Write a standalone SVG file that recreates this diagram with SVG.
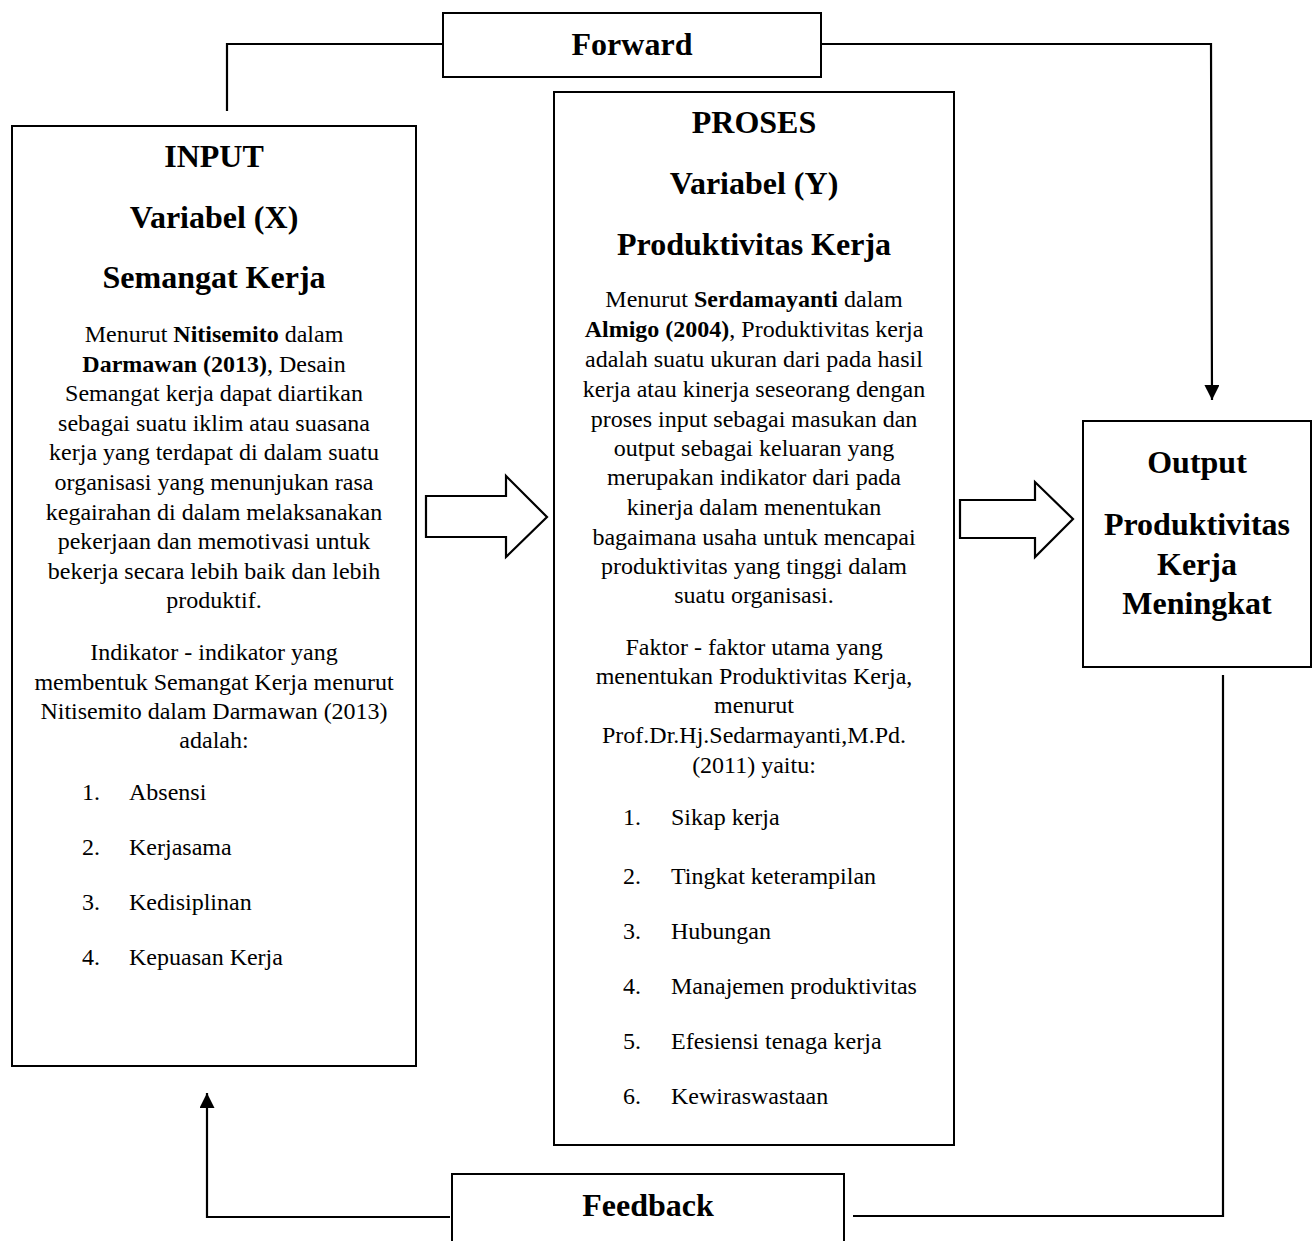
<svg xmlns="http://www.w3.org/2000/svg" width="1315" height="1241" viewBox="0 0 1315 1241">
<style>
.box{fill:#fff;stroke:#000;stroke-width:2}
.ln{fill:none;stroke:#000;stroke-width:2.2}
.t{font-family:"Liberation Serif","Times New Roman",serif;fill:#000}
.h{font-size:32px;font-weight:bold;text-anchor:middle}
.b{font-size:24px;text-anchor:middle}
.l{font-size:24px}
.bd{font-weight:bold}
.blk{fill:#fff;stroke:#000;stroke-width:2.2;stroke-linejoin:miter}
</style>
<defs>
<marker id="ah" markerWidth="15" markerHeight="15" refX="15" refY="7.5" orient="auto" markerUnits="userSpaceOnUse">
<path d="M0,0 L15,7.5 L0,15 Z" fill="#000"/>
</marker>
</defs>
<rect width="1315" height="1241" fill="#fff"/>
<g id="connectors">
<polyline class="ln" points="227,111 227,44 443,44"/>
<polyline class="ln" points="821,44 1211,44 1212,400" marker-end="url(#ah)"/>
<polyline class="ln" points="1223,675 1223,1216 853,1216"/>
<polyline class="ln" points="450,1217 207,1217 207,1093" marker-end="url(#ah)"/>
<polygon class="blk" points="426,496 506,496 506,476 547,517 506,557 506,537 426,537"/>
<polygon class="blk" points="960,500 1035,500 1035,482 1073,519 1035,557 1035,538 960,538"/>
</g>
<g id="forward">
<rect class="box" x="443" y="13" width="378" height="64"/>
<text class="t h" x="632" y="55">Forward</text>
</g>
<g id="input">
<rect class="box" x="12" y="126" width="404" height="940"/>
<text class="t h" x="214" y="167">INPUT</text>
<text class="t h" x="214" y="228">Variabel (X)</text>
<text class="t h" x="214" y="288">Semangat Kerja</text>
<text class="t b" x="214" y="342">Menurut <tspan class="bd">Nitisemito</tspan> dalam</text>
<text class="t b" x="214" y="372"><tspan class="bd">Darmawan (2013)</tspan>, Desain</text>
<text class="t b" x="214" y="401">Semangat kerja dapat diartikan</text>
<text class="t b" x="214" y="431">sebagai suatu iklim atau suasana</text>
<text class="t b" x="214" y="460">kerja yang terdapat di dalam suatu</text>
<text class="t b" x="214" y="490">organisasi yang menunjukan rasa</text>
<text class="t b" x="214" y="520">kegairahan di dalam melaksanakan</text>
<text class="t b" x="214" y="549">pekerjaan dan memotivasi untuk</text>
<text class="t b" x="214" y="579">bekerja secara lebih baik dan lebih</text>
<text class="t b" x="214" y="608">produktif.</text>
<text class="t b" x="214" y="660">Indikator - indikator yang</text>
<text class="t b" x="214" y="690">membentuk Semangat Kerja menurut</text>
<text class="t b" x="214" y="719">Nitisemito dalam Darmawan (2013)</text>
<text class="t b" x="214" y="748">adalah:</text>
<text class="t l" x="82" y="800">1.</text><text class="t l" x="129" y="800">Absensi</text>
<text class="t l" x="82" y="855">2.</text><text class="t l" x="129" y="855">Kerjasama</text>
<text class="t l" x="82" y="910">3.</text><text class="t l" x="129" y="910">Kedisiplinan</text>
<text class="t l" x="82" y="965">4.</text><text class="t l" x="129" y="965">Kepuasan Kerja</text>
</g>
<g id="proses">
<rect class="box" x="554" y="92" width="400" height="1053"/>
<text class="t h" x="754" y="133">PROSES</text>
<text class="t h" x="754" y="194">Variabel (Y)</text>
<text class="t h" x="754" y="255">Produktivitas Kerja</text>
<text class="t b" x="754" y="307">Menurut <tspan class="bd">Serdamayanti</tspan> dalam</text>
<text class="t b" x="754" y="337"><tspan class="bd">Almigo (2004)</tspan>, Produktivitas kerja</text>
<text class="t b" x="754" y="367">adalah suatu ukuran dari pada hasil</text>
<text class="t b" x="754" y="397">kerja atau kinerja seseorang dengan</text>
<text class="t b" x="754" y="427">proses input sebagai masukan dan</text>
<text class="t b" x="754" y="456">output sebagai keluaran yang</text>
<text class="t b" x="754" y="485">merupakan indikator dari pada</text>
<text class="t b" x="754" y="515">kinerja dalam menentukan</text>
<text class="t b" x="754" y="545">bagaimana usaha untuk mencapai</text>
<text class="t b" x="754" y="574">produktivitas yang tinggi dalam</text>
<text class="t b" x="754" y="603">suatu organisasi.</text>
<text class="t b" x="754" y="655">Faktor - faktor utama yang</text>
<text class="t b" x="754" y="684">menentukan Produktivitas Kerja,</text>
<text class="t b" x="754" y="713">menurut</text>
<text class="t b" x="754" y="743">Prof.Dr.Hj.Sedarmayanti,M.Pd.</text>
<text class="t b" x="754" y="773">(2011) yaitu:</text>
<text class="t l" x="623" y="825">1.</text><text class="t l" x="671" y="825">Sikap kerja</text>
<text class="t l" x="623" y="884">2.</text><text class="t l" x="671" y="884">Tingkat keterampilan</text>
<text class="t l" x="623" y="939">3.</text><text class="t l" x="671" y="939">Hubungan</text>
<text class="t l" x="623" y="994">4.</text><text class="t l" x="671" y="994">Manajemen produktivitas</text>
<text class="t l" x="623" y="1049">5.</text><text class="t l" x="671" y="1049">Efesiensi tenaga kerja</text>
<text class="t l" x="623" y="1104">6.</text><text class="t l" x="671" y="1104">Kewiraswastaan</text>
</g>
<g id="output">
<rect class="box" x="1083" y="421" width="228" height="246"/>
<text class="t h" x="1197" y="473">Output</text>
<text class="t h" x="1197" y="535">Produktivitas</text>
<text class="t h" x="1197" y="575">Kerja</text>
<text class="t h" x="1197" y="614">Meningkat</text>
</g>
<g id="feedback">
<rect class="box" x="452" y="1174" width="392" height="80"/>
<text class="t h" x="648" y="1216">Feedback</text>
</g>
</svg>
